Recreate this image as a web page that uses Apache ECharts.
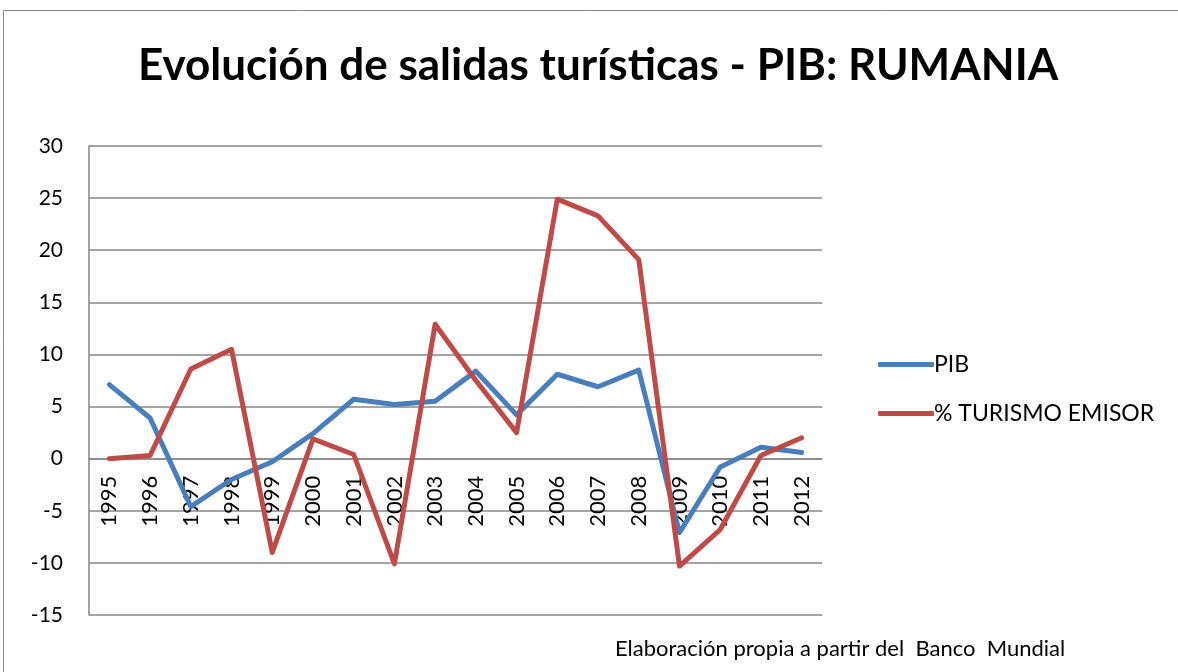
<!DOCTYPE html>
<html><head><meta charset="utf-8">
<script src="https://cdn.jsdelivr.net/npm/echarts@6/dist/echarts.min.js"></script>
<style>html,body{margin:0;padding:0;background:#fff}#c{width:1178px;height:672px}</style>
</head><body><div id="c"></div>
<script>
const years = ['1995','1996','1997','1998','1999','2000','2001','2002','2003','2004','2005','2006','2007','2008','2009','2010','2011','2012'];
const pib = [7.1, 3.9, -4.6, -2.0, -0.3, 2.4, 5.7, 5.2, 5.5, 8.4, 4.2, 8.1, 6.9, 8.5, -7.1, -0.8, 1.1, 0.6];
const turismo = [0.0, 0.3, 8.6, 10.5, -9.0, 1.9, 0.4, -10.1, 12.9, 7.5, 2.5, 24.9, 23.3, 19.1, -10.3, -6.8, 0.3, 2.0];
const yTicks = {min: -15, max: 30, interval: 5};
const FONT = 'Lato';
const GRID = {left: 89, right: 356, top: 146, bottom: 57};
const plotH = 672 - GRID.top - GRID.bottom;
const zeroOffset = -plotH * (0 - yTicks.min) / (yTicks.max - yTicks.min);
const chart = echarts.init(document.getElementById('c'));
chart.setOption({
  animation: false,
  backgroundColor: '#fff',
  title: {
    text: 'Evolución de salidas turísticas - PIB: RUMANIA',
    left: 133, top: 39,
    textStyle: {fontFamily: FONT, fontWeight: 'bold', fontSize: 44, color: '#000'}
  },
  graphic: [
    {type: 'rect', shape: {x: 3.5, y: 10.5, width: 1190, height: 700}, style: {fill: 'none', stroke: '#888', lineWidth: 1}},
    {type: 'text', left: 615, top: 638, style: {text: 'Elaboración propia a partir del  Banco  Mundial', font: '22px ' + FONT, fill: '#000'}}
  ],
  legend: {
    orient: 'vertical', left: 873, top: 348, itemWidth: 56, itemHeight: 5, itemGap: 26,
    icon: 'roundRect',
    textStyle: {fontFamily: FONT, fontSize: 23, color: '#000', padding: [0,0,0,-5]},
    data: ['PIB', '% TURISMO EMISOR']
  },
  grid: GRID,
  xAxis: {
    type: 'category', data: years, boundaryGap: true,
    offset: zeroOffset,
    axisLine: {onZero: false, lineStyle: {color: '#868686', width: 1.5}},
    axisTick: {show: false},
    axisLabel: {rotate: 90, margin: 17, fontFamily: FONT, fontSize: 22, color: '#000'}
  },
  yAxis: {
    type: 'value', min: yTicks.min, max: yTicks.max, interval: yTicks.interval,
    axisLine: {show: true, lineStyle: {color: '#868686', width: 1.5}},
    axisTick: {show: false},
    splitLine: {lineStyle: {color: '#868686', width: 1.5}},
    axisLabel: {margin: 26, fontFamily: FONT, fontSize: 21, color: '#000'}
  },
  series: [
    {name: 'PIB', type: 'line', data: pib, symbol: 'none', color: '#4a7ebb',
     itemStyle: {color: '#4a7ebb'},
     lineStyle: {width: 5, color: '#4a7ebb', cap: 'round', join: 'round'}},
    {name: '% TURISMO EMISOR', type: 'line', data: turismo, symbol: 'none', color: '#be4b48',
     itemStyle: {color: '#be4b48'},
     lineStyle: {width: 5, color: '#be4b48', cap: 'round', join: 'round'}}
  ]
});
</script></body></html>
